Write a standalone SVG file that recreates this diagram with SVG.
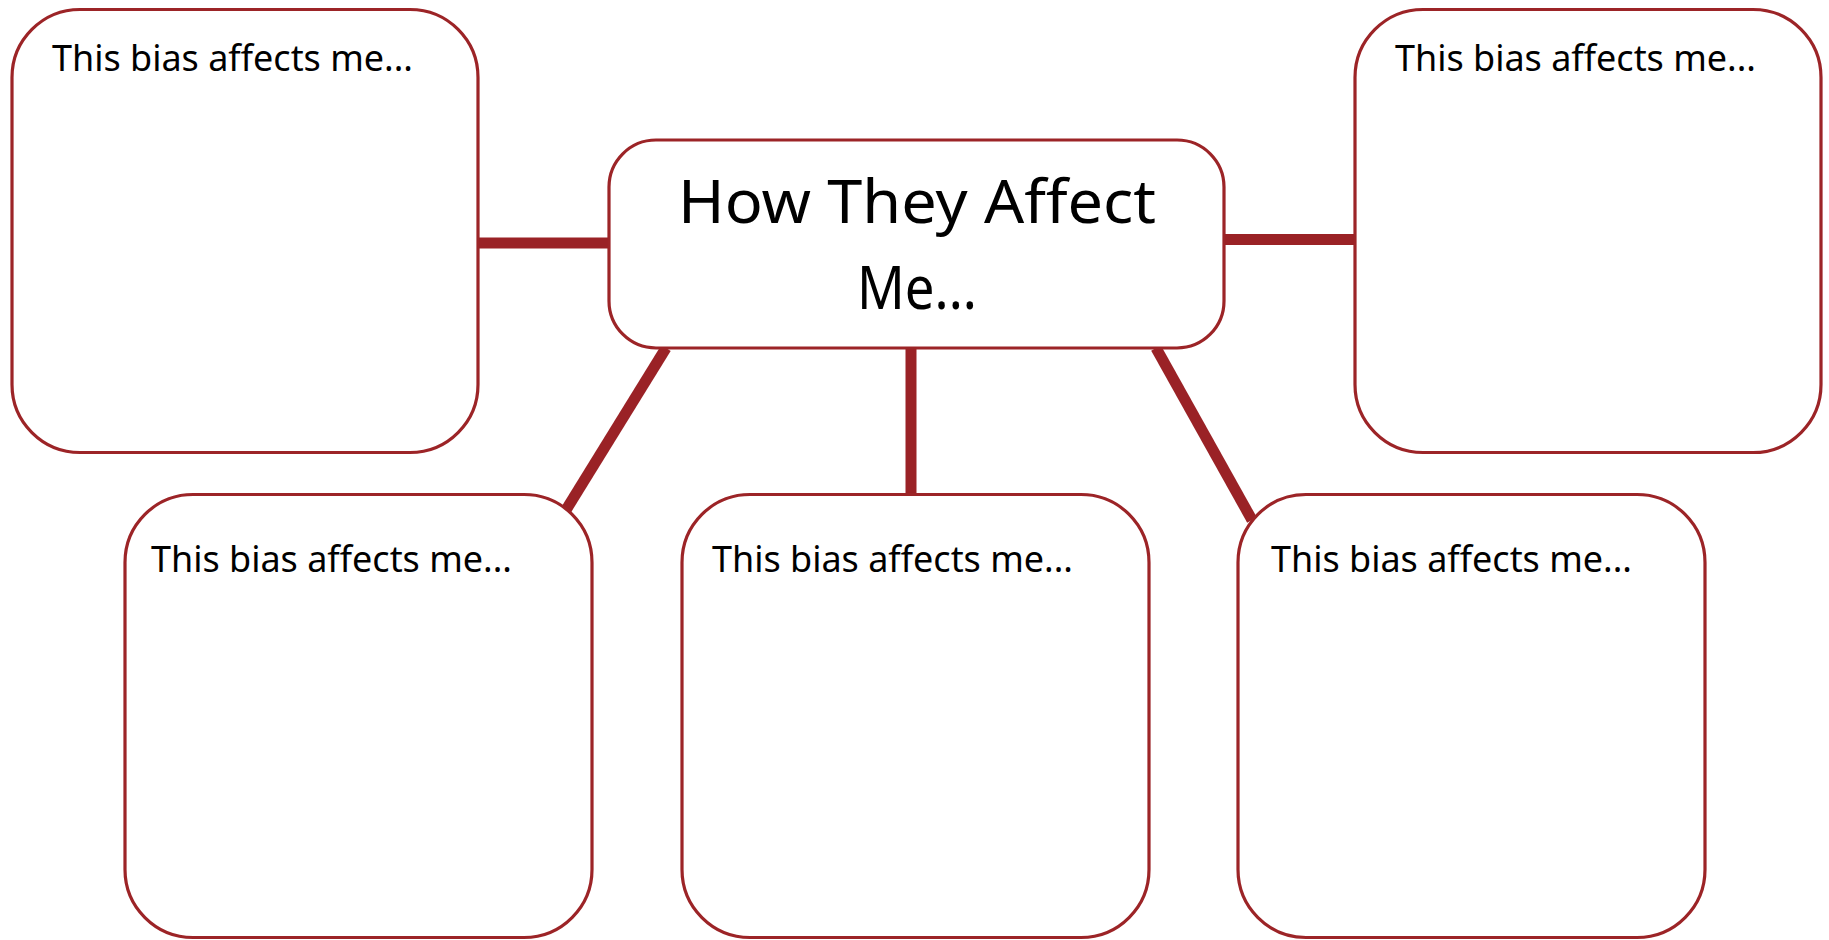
<svg xmlns="http://www.w3.org/2000/svg" width="1829" height="940" viewBox="0 0 1829 940">
<style>
.box{fill:#ffffff;stroke:#9c2427;stroke-width:3.2}
.lbl{font-family:"Noto Sans","Liberation Sans",sans-serif;font-size:36px;fill:#000000}
.title{font-family:"Noto Sans","Liberation Sans",sans-serif;font-size:60px;fill:#000000;text-anchor:middle}
.conn{stroke:#9a2226;stroke-width:11;fill:none}
</style>
<rect width="1829" height="940" fill="#ffffff"/>
<g id="connectors">
<line class="conn" x1="476" y1="243" x2="611" y2="243"/>
<line class="conn" x1="1222" y1="239.5" x2="1357" y2="239.5"/>
<line class="conn" x1="911" y1="346" x2="911" y2="496"/>
<line class="conn" x1="666" y1="348" x2="566" y2="510"/>
<line class="conn" x1="1156" y1="348" x2="1252" y2="520"/>
</g>
<g id="node-center">
<rect class="box" x="609" y="140" width="615" height="208" rx="47" ry="47"/>
<text class="title" x="917" y="223" textLength="478" lengthAdjust="spacingAndGlyphs">How They Affect</text>
<text class="title" x="917" y="309" textLength="120" lengthAdjust="spacingAndGlyphs">Me...</text>
</g>
<g id="node-top-left">
<rect class="box" x="12" y="9.5" width="466" height="443" rx="68" ry="68"/>
<text class="lbl" x="52" y="71" textLength="361" lengthAdjust="spacingAndGlyphs">This bias affects me...</text>
</g>
<g id="node-top-right">
<rect class="box" x="1355" y="9.5" width="466" height="443" rx="68" ry="68"/>
<text class="lbl" x="1395" y="71" textLength="361" lengthAdjust="spacingAndGlyphs">This bias affects me...</text>
</g>
<g id="node-bottom-left">
<rect class="box" x="125" y="494.5" width="467" height="443" rx="68" ry="68"/>
<text class="lbl" x="151" y="572" textLength="361" lengthAdjust="spacingAndGlyphs">This bias affects me...</text>
</g>
<g id="node-bottom-middle">
<rect class="box" x="682" y="494.5" width="467" height="443" rx="68" ry="68"/>
<text class="lbl" x="712" y="572" textLength="361" lengthAdjust="spacingAndGlyphs">This bias affects me...</text>
</g>
<g id="node-bottom-right">
<rect class="box" x="1238" y="494.5" width="467" height="443" rx="68" ry="68"/>
<text class="lbl" x="1271" y="572" textLength="361" lengthAdjust="spacingAndGlyphs">This bias affects me...</text>
</g>
</svg>
